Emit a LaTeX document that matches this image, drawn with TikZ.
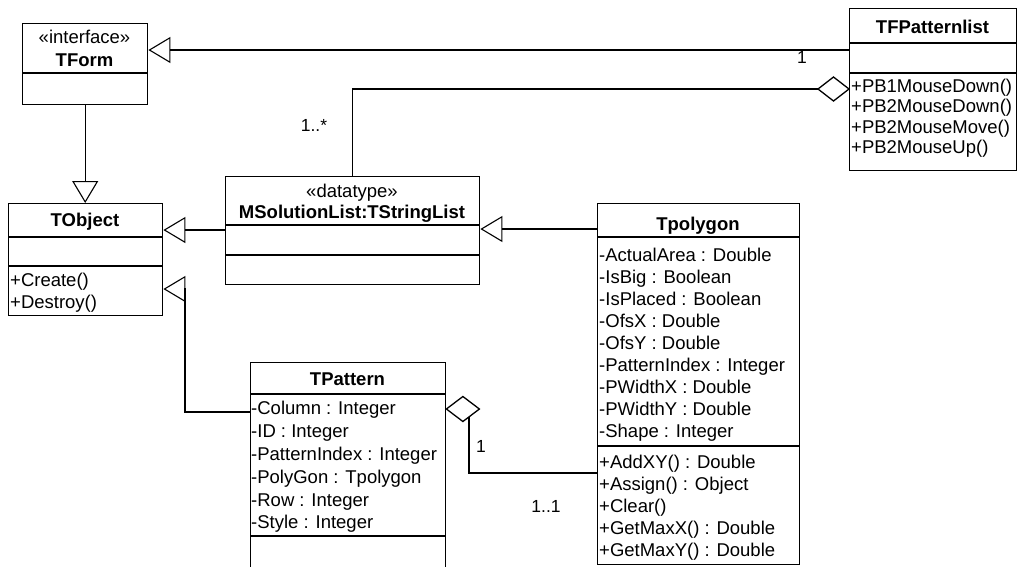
\documentclass[tikz,border=0pt]{standalone}
\usepackage{fontspec}
\setmainfont{Liberation Sans}
\usetikzlibrary{arrows.meta}
\begin{document}
\begin{tikzpicture}[x=1pt,y=-1pt,
  box/.style={draw, line width=1.4pt, inner sep=0pt, rectangle, anchor=north west},
  div/.style={line width=1.3pt},
  txt/.style={anchor=base west, inner sep=0pt, font=\fontsize{18.5}{20}\selectfont},
  ttl/.style={anchor=base, inner sep=0pt, font=\fontsize{18.5}{20}\selectfont\bfseries},
  stereo/.style={anchor=base, inner sep=0pt, font=\fontsize{18.5}{20}\selectfont},
  conn/.style={line width=1.1pt},
  gen/.style={conn, -{Triangle[open, length=22pt, width=26pt, line width=1.1pt]}},
  agg/.style={line width=1.3pt, fill=white},
  lbl/.style={inner sep=0pt, font=\fontsize{17.5}{20}\selectfont},
]
\useasboundingbox (0,0) rectangle (1018,566);

% ---------- TForm ----------
\node[box, minimum width=125pt, minimum height=81pt] (tform) at (22,23) {};
\draw[div] (tform.west |- 0,73) -- (tform.east |- 0,73);
\node[stereo] (tformst) at (84.5,43) {«interface»};
\node[ttl] (tformt) at (84.5,66) {TForm};

% ---------- TFPatternlist ----------
\node[box, minimum width=167pt, minimum height=162pt] (tfp) at (849,8) {};
\draw[div] (tfp.west |- 0,43) -- (tfp.east |- 0,43);
\draw[div] (tfp.west |- 0,73) -- (tfp.east |- 0,73);
\node[ttl] (tfpt) at (932.5,33) {TFPatternlist};
\node[txt] (tfpm1) at (851,92) {+PB1MouseDown()};
\node[txt] (tfpm2) at (851,112) {+PB2MouseDown()};
\node[txt] (tfpm3) at (851,133) {+PB2MouseMove()};
\node[txt] (tfpm4) at (851,153) {+PB2MouseUp()};

% ---------- MSolutionList ----------
\node[box, minimum width=254pt, minimum height=108pt] (msl) at (225,176) {};
\draw[div] (msl.west |- 0,225) -- (msl.east |- 0,225);
\draw[div] (msl.west |- 0,255) -- (msl.east |- 0,255);
\node[stereo] (mslst) at (352,197) {«datatype»};
\node[ttl] (mslt) at (352,218) {MSolutionList:TStringList};

% ---------- TObject ----------
\node[box, minimum width=154pt, minimum height=112pt] (tobj) at (8,203) {};
\draw[div] (tobj.west |- 0,237) -- (tobj.east |- 0,237);
\draw[div] (tobj.west |- 0,266) -- (tobj.east |- 0,266);
\node[ttl] (tobjt) at (85,226) {TObject};
\node[txt] (tobjm1) at (10,286) {+Create()};
\node[txt] (tobjm2) at (10,308) {+Destroy()};

% ---------- Tpolygon ----------
\node[box, minimum width=202pt, minimum height=361pt] (tpoly) at (597,203) {};
\draw[div] (tpoly.west |- 0,237) -- (tpoly.east |- 0,237);
\draw[div] (tpoly.west |- 0,446) -- (tpoly.east |- 0,446);
\node[ttl] (tpolyt) at (698,230) {Tpolygon};
\node[txt] (pa1) at (599,261) {-ActualArea : Double};
\node[txt] (pa2) at (599,283) {-IsBig : Boolean};
\node[txt] (pa3) at (599,305) {-IsPlaced : Boolean};
\node[txt] (pa4) at (599,327) {-OfsX : Double};
\node[txt] (pa5) at (599,349) {-OfsY : Double};
\node[txt] (pa6) at (599,371) {-PatternIndex : Integer};
\node[txt] (pa7) at (599,393) {-PWidthX : Double};
\node[txt] (pa8) at (599,415) {-PWidthY : Double};
\node[txt] (pa9) at (599,437) {-Shape : Integer};
\node[txt] (pm1) at (599,468) {+AddXY() : Double};
\node[txt] (pm2) at (599,490) {+Assign() : Object};
\node[txt] (pm3) at (599,512) {+Clear()};
\node[txt] (pm4) at (599,534) {+GetMaxX() : Double};
\node[txt] (pm5) at (599,556) {+GetMaxY() : Double};

% ---------- TPattern ----------
\node[box, minimum width=195pt, minimum height=212pt] (tpat) at (250,362) {};
\draw[div] (tpat.west |- 0,394) -- (tpat.east |- 0,394);
\draw[div] (tpat.west |- 0,536) -- (tpat.east |- 0,536);
\node[ttl] (tpatt) at (347.5,385) {TPattern};
\node[txt] (ta1) at (251,414) {-Column : Integer};
\node[txt] (ta2) at (251,437) {-ID : Integer};
\node[txt] (ta3) at (251,460) {-PatternIndex : Integer};
\node[txt] (ta4) at (251,483) {-PolyGon : Tpolygon};
\node[txt] (ta5) at (251,506) {-Row : Integer};
\node[txt] (ta6) at (251,528) {-Style : Integer};

% ---------- connectors ----------
% generalizations
\draw[gen] (tfp.west |- 0,50) -- (tform.east |- 0,50);
\draw[gen] (tform.south) -- (tform.south |- tobj.north);
\draw[gen] (msl.west |- 0,230) -- (tobj.east |- 0,230);
\draw[gen] (tpoly.west |- 0,229) -- (msl.east |- 0,229);
\coordinate (k1) at (185,412);
\coordinate (k2) at (185,289);
\draw[gen] (tpat.west |- k1) -- (k1) -- (k2) -- (tobj.east |- k2);

% aggregation TFPatternlist -> MSolutionList
\draw[conn] (tfp.west |- 0,89) -| (msl.north);
\draw[agg] (tfp.west |- 0,89) -- ++(-15.5,-12) -- ++(-15.5,12) -- ++(15.5,12) -- cycle;

% aggregation TPattern -> Tpolygon
\coordinate (k3) at (469,409);
\draw[conn] (tpoly.west |- 0,473) -| (k3);
\draw[agg] (tpat.east |- 0,409) -- ++(16.5,-12.5) -- ++(16.5,12.5) -- ++(-16.5,12.5) -- cycle;

% multiplicities
\node[lbl] (m1) at (802,57) {1};
\node[lbl] (m2) at (314,125) {1..*};
\node[lbl] (m3) at (481,446) {1};
\node[lbl] (m4) at (546,506) {1..1};
\end{tikzpicture}
\end{document}
